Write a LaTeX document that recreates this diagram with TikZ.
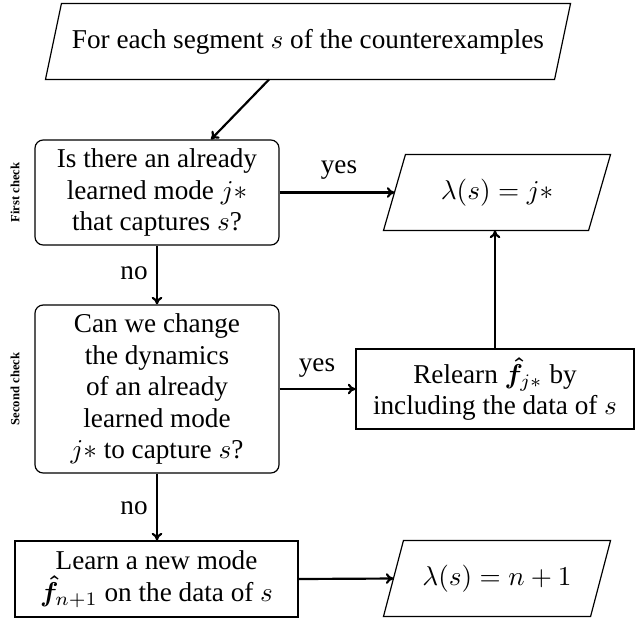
\documentclass[tikz,border=0pt]{standalone}
\usepackage{amsmath,bm}
\usepackage[no-math]{fontspec}
\setmainfont{Liberation Serif}
\usetikzlibrary{arrows.meta,calc}
\newcommand\U{0.3676pt}
\begin{document}
\begin{tikzpicture}[x=\U,y=-\U,
  font=\fontsize{10}{11.58}\selectfont,
  box/.style={draw, line width=0.44pt, align=center, inner sep=0pt},
  rbox/.style={box, rounded corners=3pt},
  pbox/.style={align=center, inner sep=0pt},
  outl/.style={line width=0.44pt, line join=miter},
  arr/.style={line width=0.8pt, -{To[length=2.8pt,width=3.9pt]}},
  lbl/.style={inner sep=0pt},
  side/.style={inner sep=0pt, rotate=90, font=\fontsize{4.63}{5.2}\selectfont\bfseries}]
\useasboundingbox (0,0) rectangle (635,620);

\node[pbox, minimum width={524*\U}, minimum height={75*\U}] (top) at (308,41.5) {For each segment $s$ of the counterexamples};
\draw[outl] ($(top.north west)+(16,0)$) -- (top.north east) -- ($(top.south east)+(-16,0)$) -- (top.south west) -- cycle;

\node[rbox, minimum width={244*\U}, minimum height={105*\U}] (q1) at (157,192.5) {Is there an already\\learned mode $j*$\\that captures $s$?};

\node[pbox, minimum width={226*\U}, minimum height={75*\U}] (p2) at (497,192.5) {$\lambda(s) = j*$};
\draw[outl] ($(p2.north west)+(22,0)$) -- (p2.north east) -- ($(p2.south east)+(-22,0)$) -- (p2.south west) -- cycle;

\node[rbox, minimum width={244*\U}, minimum height={168*\U}] (q2) at (157,389) {Can we change\\the dynamics\\of an already\\learned mode\\$j*$ to capture $s$?};

\node[box, minimum width={278*\U}, minimum height={80*\U}] (rl) at (495,389) {Relearn $\bm{\hat{f}}_{j*}$ by\\including the data of $s$};

\node[box, minimum width={283*\U}, minimum height={76*\U}] (ln) at (156.5,579) {Learn a new mode\\$\bm{\hat{f}}_{n+1}$ on the data of $s$};

\node[pbox, minimum width={226*\U}, minimum height={75*\U}] (p3) at (497,578.5) {$\lambda(s) = n+1$};
\draw[outl] ($(p3.north west)+(20,0)$) -- (p3.north east) -- ($(p3.south east)+(-20,0)$) -- (p3.south west) -- cycle;

\node[lbl] (yes1) at (339,170) {yes};
\node[lbl] (no1) at (134,273) {no};
\node[lbl] (yes2) at (317,368) {yes};
\node[lbl] (no2) at (134,508) {no};
\node[side] (fc) at (15,192.5) {First check};
\node[side] (sc) at (15,389) {Second check};

\draw[arr] ($(top.south)+(-39,0)$) -- ($(q1.north)+(54,0)$);
\draw[arr] (q1.east) -- ($(p2.west)+(11,0)$);
\draw[arr] (q1.south) -- (q2.north);
\draw[arr] (q2.east) -- (rl.west);
\draw[arr] (rl.north) -- (rl.north |- p2.south);
\draw[arr] (q2.south) -- (q2.south |- ln.north);
\draw[arr] (ln.east) -- ($(p3.west)+(10,0)$);
\end{tikzpicture}
\end{document}
